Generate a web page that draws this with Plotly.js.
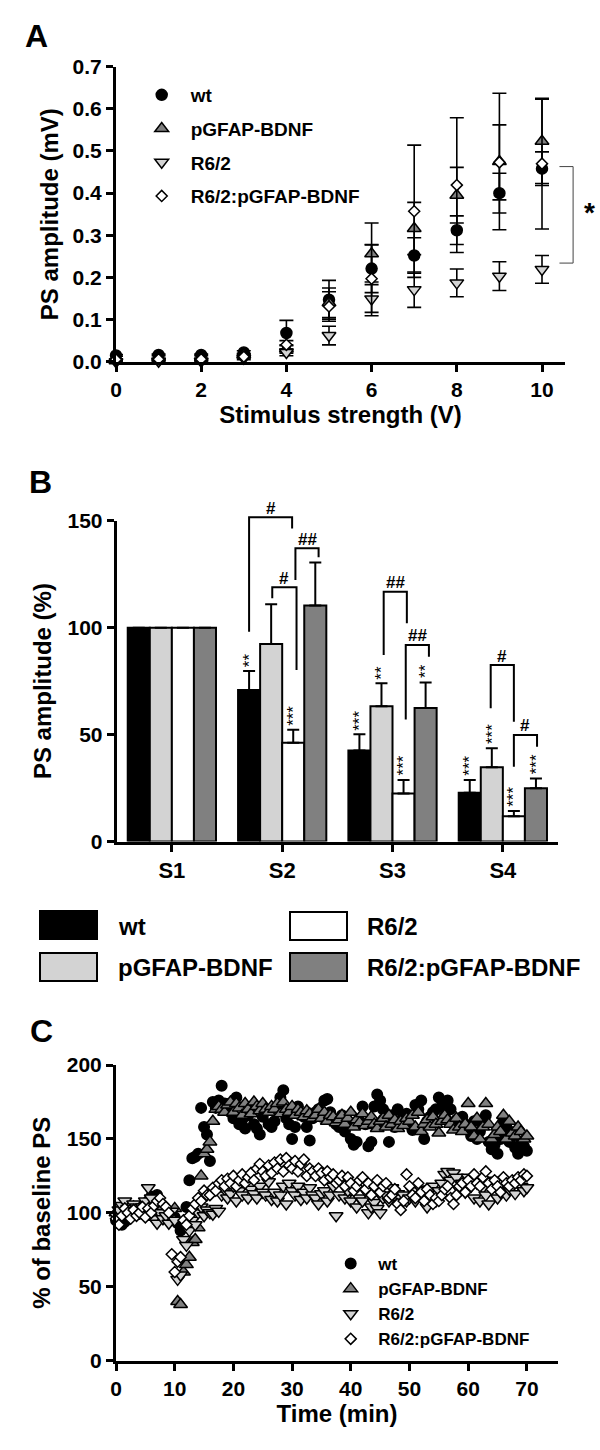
<!DOCTYPE html>
<html>
<head>
<meta charset="utf-8">
<script src="https://cdn.plot.ly/plotly-3.0.1.min.js"></script>
<style>html,body{margin:0;padding:0;background:#fff}#chart{width:600px;height:1450px}</style>
</head>
<body>
<div id="chart"></div>
<script>
// ---------------- Panel A data ----------------
const groupNames = ['wt', 'pGFAP-BDNF', 'R6/2', 'R6/2:pGFAP-BDNF'];
const stimV = [0, 1, 2, 3, 4, 5, 6, 7, 8, 9, 10];
const aWt      = [0.015, 0.016, 0.016, 0.022, 0.068, 0.147, 0.221, 0.252, 0.312, 0.400, 0.458];
const aWtErr   = [0.002, 0.002, 0.002, 0.004, 0.030, 0.046, 0.057, 0.042, 0.034, 0.047, 0.040];
const aPg      = [0.002, 0.003, 0.003, 0.016, 0.030, 0.140, 0.256, 0.316, 0.395, 0.475, 0.523];
const aPgErr   = [0.002, 0.002, 0.002, 0.004, 0.010, 0.035, 0.073, 0.062, 0.066, 0.162, 0.100];
const aR6      = [0.000, 0.001, 0.001, 0.008, 0.022, 0.062, 0.149, 0.171, 0.187, 0.203, 0.219];
const aR6Err   = [0.002, 0.002, 0.002, 0.003, 0.008, 0.022, 0.040, 0.042, 0.033, 0.034, 0.033];
const aR6Pg    = [0.005, 0.006, 0.006, 0.012, 0.040, 0.131, 0.197, 0.357, 0.419, 0.473, 0.470];
const aR6PgErr = [0.002, 0.002, 0.002, 0.003, 0.010, 0.035, 0.080, 0.157, 0.160, 0.089, 0.155];

// ---------------- Panel B data ----------------
const sessions = ['S1', 'S2', 'S3', 'S4'];
const bWt      = [100, 70.8, 42.5, 22.8];
const bWtErr   = [0, 8.9, 7.6, 6.0];
const bPg      = [100, 92.3, 63.2, 34.7];
const bPgErr   = [0, 18.6, 10.8, 8.9];
const bR6      = [100, 46.2, 22.5, 11.8];
const bR6Err   = [0, 6.1, 6.3, 2.5];
const bR6Pg    = [100, 110.4, 62.4, 24.9];
const bR6PgErr = [0, 20.1, 12.0, 4.6];
const starsWt    = ['', '**', '***', '***'];
const starsPg    = ['', '', '**', '***'];
const starsR6    = ['', '***', '***', '***'];
const starsR6Pg  = ['', '', '**', '***'];
const hashLabels = ['#', '##', '#', '##', '##', '#', '#'];

// ---------------- Panel C data ----------------
const timeMin = [0,0.5,1,1.5,2,2.5,3,3.5,4,4.5,5,5.5,6,6.5,7,7.5,8,8.5,9,9.5,10,10.5,11,11.5,12,12.5,13,13.5,14,14.5,15,15.5,16,16.5,17,17.5,18,18.5,19,19.5,20,20.5,21,21.5,22,22.5,23,23.5,24,24.5,25,25.5,26,26.5,27,27.5,28,28.5,29,29.5,30,30.5,31,31.5,32,32.5,33,33.5,34,34.5,35,35.5,36,36.5,37,37.5,38,38.5,39,39.5,40,40.5,41,41.5,42,42.5,43,43.5,44,44.5,45,45.5,46,46.5,47,47.5,48,48.5,49,49.5,50,50.5,51,51.5,52,52.5,53,53.5,54,54.5,55,55.5,56,56.5,57,57.5,58,58.5,59,59.5,60,60.5,61,61.5,62,62.5,63,63.5,64,64.5,65,65.5,66,66.5,67,67.5,68,68.5,69,69.5,70];
const cWt = [95,93,92,94,96,98,100,99,102,104,106,108,111,109,112,107,104,100,98,96,97,93,88,92,104,122,137,138,140,171,158,153,135,175,171,176,186,174,170,168,164,178,160,163,157,166,172,160,157,153,165,170,160,158,162,171,178,183,164,160,150,158,172,167,165,158,149,164,168,170,165,176,177,168,164,160,158,166,155,162,150,146,148,162,172,160,145,148,172,180,176,170,160,148,166,158,170,162,165,167,160,156,173,170,176,150,162,165,168,170,178,172,165,176,170,160,163,158,165,160,158,152,162,150,155,160,166,148,143,146,140,150,163,158,148,152,144,140,148,145,142];
const cPg = [100,98,103,101,99,102,104,100,98,101,102,99,97,100,103,101,98,100,99,97,103,40,38,60,65,70,80,82,90,125,140,143,148,162,170,172,170,168,173,175,168,174,171,166,174,170,167,175,172,169,174,170,168,172,170,174,167,175,170,168,172,166,170,168,165,169,167,164,166,170,164,168,162,166,165,161,163,166,160,164,168,158,163,161,167,159,162,165,160,157,162,164,158,166,160,163,157,162,159,164,162,166,158,168,155,160,163,158,165,160,154,162,166,163,160,156,164,158,155,160,174,158,152,164,150,158,174,160,150,153,158,155,166,150,162,154,152,158,155,150,152];
const cR6 = [98,102,105,108,103,100,106,104,100,104,108,117,110,96,93,100,96,98,93,101,95,55,58,82,78,88,95,92,100,104,98,102,100,99,103,101,112,116,110,113,118,108,115,112,120,110,116,113,110,118,114,112,121,109,114,108,112,118,106,120,115,112,118,109,114,110,117,112,110,106,113,115,108,112,118,98,112,124,110,115,108,118,104,110,108,115,100,104,107,103,100,110,112,108,117,112,113,110,112,108,110,115,108,112,116,110,104,116,118,108,115,120,126,128,122,127,124,116,120,114,124,118,110,120,108,117,112,106,118,122,110,114,120,112,116,118,113,120,118,115,117];
const cR6Pg = [96,92,98,103,100,96,102,98,100,104,97,103,100,105,108,110,106,104,100,72,60,67,70,95,92,98,103,106,110,108,115,112,112,117,115,120,122,118,123,120,125,118,122,126,120,124,127,122,130,133,128,125,132,127,134,130,136,128,137,132,130,135,128,133,136,125,130,128,125,130,127,122,128,124,126,120,122,125,118,124,120,115,118,122,124,116,120,112,118,122,114,118,120,110,112,116,106,102,108,126,118,112,110,120,114,108,116,112,106,110,108,112,116,118,110,106,112,118,120,114,122,118,126,120,118,124,128,120,116,122,118,114,124,120,118,122,120,124,122,126,125];

// ---------------- styling ----------------
const FAM = 'Liberation Sans, Arial, Helvetica, sans-serif';
const bold = s => ({family: FAM, size: s, color: '#000', weight: 'bold'});
const P = {x: v => v / 600, y: v => 1 - v / 1450};   // page pixel -> paper

const domA = {x: [116 / 600, 565 / 600], y: [1 - 361.7 / 1450, 1 - 66.7 / 1450]};
const domB = {x: [116.7 / 600, 558 / 600], y: [1 - 841.5 / 1450, 1 - 520.7 / 1450]};
const domC = {x: [116 / 600, 558 / 600], y: [1 - 1360.7 / 1450, 1 - 1065 / 1450]};
const rngA = {x: [0, 10.54], y: [0, 0.7]};
const rngB = {x: [-0.5, 3.5], y: [0, 150]};
const rngC = {x: [0, 75.3], y: [0, 200]};
const conv = (d, r) => ({
  x: v => d.x[0] + (v - r.x[0]) / (r.x[1] - r.x[0]) * (d.x[1] - d.x[0]),
  y: v => d.y[0] + (v - r.y[0]) / (r.y[1] - r.y[0]) * (d.y[1] - d.y[0])
});
const cA = conv(domA, rngA), cB = conv(domB, rngB);

const fills = ['#000000', '#808080', '#d3d3d3', '#ffffff'];
const symbols = ['circle', 'triangle-up', 'triangle-down', 'diamond'];
const sizesA = [11, 12, 12, 8.5];
const sizesC = [10.5, 12, 12, 8.5];
const barFills = ['#000000', '#d3d3d3', '#ffffff', '#808080'];

const traces = [];
// Panel A
[[aWt, aWtErr], [aPg, aPgErr], [aR6, aR6Err], [aR6Pg, aR6PgErr]].forEach((s, i) => {
  traces.push({
    type: 'scatter', mode: 'markers', x: stimV, y: s[0], name: groupNames[i],
    xaxis: 'x', yaxis: 'y', legend: 'legend', legendgroup: 'a' + i, cliponaxis: false,
    error_y: {type: 'data', array: s[1], color: '#000', thickness: 1.6, width: 7},
    marker: {symbol: symbols[i], size: sizesA[i], color: fills[i], line: {color: '#000', width: 1.5}}
  });
});
// Panel B
[[bWt, bWtErr], [bPg, bPgErr], [bR6, bR6Err], [bR6Pg, bR6PgErr]].forEach((s, i) => {
  traces.push({
    type: 'bar', x: sessions, y: s[0], name: groupNames[i === 1 ? 1 : i === 2 ? 2 : i],
    xaxis: 'x2', yaxis: 'y2', showlegend: false,
    marker: {color: barFills[i], line: {color: '#000', width: 2}},
    error_y: {type: 'data', symmetric: false, array: s[1], arrayminus: s[1].map(() => 0), color: '#000', thickness: 2, width: 6}
  });
});
// Panel C
[cWt, cPg, cR6, cR6Pg].forEach((s, i) => {
  traces.push({
    type: 'scatter', mode: 'markers', x: timeMin, y: s, name: groupNames[i],
    xaxis: 'x3', yaxis: 'y3', legend: 'legend2', cliponaxis: false,
    marker: {symbol: symbols[i], size: sizesC[i], color: fills[i], line: {color: '#000', width: 1.5}}
  });
});

// ---------------- annotations & shapes ----------------
const annotations = [];
const shapes = [];
const letter = (t, x, y) => annotations.push({text: t, xref: 'paper', yref: 'paper', x: P.x(x), y: P.y(y), xanchor: 'center', yanchor: 'middle', showarrow: false, font: bold(32)});
letter('A', 36, 36);
letter('B', 40, 482);
letter('C', 41, 1031);

// Panel A significance bracket
const aBr = {x0: 10.41, x1: 10.73, yTop: 0.463, yBot: 0.234};
shapes.push({type: 'path', xref: 'paper', yref: 'paper', line: {color: '#444', width: 1},
  path: `M${cA.x(aBr.x0)},${cA.y(aBr.yTop)} L${cA.x(aBr.x1)},${cA.y(aBr.yTop)} L${cA.x(aBr.x1)},${cA.y(aBr.yBot)} L${cA.x(aBr.x0)},${cA.y(aBr.yBot)}`});
annotations.push({text: '*', xref: 'paper', yref: 'paper', x: P.x(589), y: P.y(212), xanchor: 'center', yanchor: 'middle', showarrow: false, font: bold(28)});

// Panel B stars above error bars
const offsets = [-0.3, -0.1, 0.1, 0.3];
[[starsWt, bWt, bWtErr], [starsPg, bPg, bPgErr], [starsR6, bR6, bR6Err], [starsR6Pg, bR6Pg, bR6PgErr]].forEach((s, i) => {
  s[0].forEach((st, k) => {
    if (!st) return;
    annotations.push({text: st, xref: 'x2', yref: 'y2', x: k + offsets[i], y: s[1][k] + s[2][k],
      xanchor: 'center', yanchor: 'bottom', yshift: 2, textangle: -90, showarrow: false, font: {family: FAM, size: 17, color: '#000'}});
  });
});
// Panel B comparison brackets (category position, value)
const brX0   = [0.70, 1.12, 0.91, 1.92, 2.12, 2.89, 3.10];
const brX1   = [1.09, 1.33, 1.13, 2.13, 2.33, 3.10, 3.31];
const brTop  = [151.6, 137.1, 118.9, 116.8, 91.9, 82.5, 49.8];
const brLeft = [98.1, 122.3, 113.7, 87.2, 57.1, 62.3, 35.0];
const brRight= [146.4, 132.9, 80.2, 102.0, 86.4, 56.0, 44.3];
hashLabels.forEach((lab, i) => {
  shapes.push({type: 'path', xref: 'paper', yref: 'paper', line: {color: '#000', width: 2},
    path: `M${cB.x(brX0[i])},${cB.y(brLeft[i])} L${cB.x(brX0[i])},${cB.y(brTop[i])} L${cB.x(brX1[i])},${cB.y(brTop[i])} L${cB.x(brX1[i])},${cB.y(brRight[i])}`});
  annotations.push({text: lab, xref: 'paper', yref: 'paper', x: cB.x((brX0[i] + brX1[i]) / 2), y: cB.y(brTop[i]),
    xanchor: 'center', yanchor: 'middle', yshift: 9, showarrow: false, font: bold(17)});
});
// Panel B legend (boxes + labels)
const legB = [
  {name: groupNames[0], fill: barFills[0], bx: 40, by: 911, tx: 116, ty: 926},
  {name: groupNames[2], fill: barFills[2], bx: 290, by: 912, tx: 365, ty: 926},
  {name: groupNames[1], fill: barFills[1], bx: 40, by: 953, tx: 116, ty: 968},
  {name: groupNames[3], fill: barFills[3], bx: 290, by: 953, tx: 365, ty: 968}
];
legB.forEach(e => {
  shapes.push({type: 'rect', xref: 'paper', yref: 'paper', x0: P.x(e.bx), x1: P.x(e.bx + 57), y0: P.y(e.by + 28), y1: P.y(e.by),
    fillcolor: e.fill, line: {color: '#000', width: 2}});
  annotations.push({text: e.name, xref: 'paper', yref: 'paper', x: P.x(e.tx), y: P.y(e.ty), xanchor: 'left', yanchor: 'middle', showarrow: false, font: bold(24)});
});

const base = {showline: true, linecolor: '#000', linewidth: 3, ticks: 'outside', ticklen: 7, tickwidth: 3, tickcolor: '#000',
  showgrid: false, zeroline: false, tickfont: bold(21), fixedrange: true};
const ax = extra => Object.assign({}, base, extra);

const layout = {
  width: 600, height: 1450, autosize: false,
  margin: {l: 0, r: 0, t: 0, b: 0, pad: 0},
  paper_bgcolor: '#fff', plot_bgcolor: 'rgba(0,0,0,0)',
  font: {family: FAM, color: '#000'},
  barmode: 'group', bargap: 0.2, bargroupgap: 0,
  xaxis: ax({domain: domA.x, anchor: 'y', range: rngA.x, tickvals: [0, 2, 4, 6, 8, 10],
    title: {text: 'Stimulus strength (V)', font: bold(24), standoff: 6}}),
  yaxis: ax({domain: domA.y, anchor: 'x', range: rngA.y, tickvals: [0, 0.1, 0.2, 0.3, 0.4, 0.5, 0.6, 0.7], tickformat: '.1f',
    title: {text: 'PS amplitude (mV)', font: bold(24), standoff: 8}}),
  xaxis2: ax({domain: domB.x, anchor: 'y2', type: 'category', range: rngB.x, tickfont: bold(22)}),
  yaxis2: ax({domain: domB.y, anchor: 'x2', range: rngB.y, tickvals: [0, 50, 100, 150],
    title: {text: 'PS amplitude (%)', font: bold(24), standoff: 10}}),
  xaxis3: ax({domain: domC.x, anchor: 'y3', range: rngC.x, tickvals: [0, 10, 20, 30, 40, 50, 60, 70],
    title: {text: 'Time (min)', font: bold(24), standoff: 6}}),
  yaxis3: ax({domain: domC.y, anchor: 'x3', range: rngC.y, tickvals: [0, 50, 100, 150, 200],
    title: {text: '% of baseline PS', font: bold(24), standoff: 10}}),
  legend: {x: P.x(132.7), y: P.y(76), xanchor: 'left', yanchor: 'top', bgcolor: 'rgba(0,0,0,0)', borderwidth: 0,
    font: bold(19), itemwidth: 48, tracegroupgap: 6, traceorder: 'grouped'},
  legend2: {x: P.x(323.2), y: P.y(1246), xanchor: 'left', yanchor: 'top', bgcolor: 'rgba(0,0,0,0)', borderwidth: 0,
    font: bold(17), itemwidth: 45, traceorder: 'normal'},
  annotations: annotations,
  shapes: shapes
};

Plotly.newPlot('chart', traces, layout, {displayModeBar: false, staticPlot: true});
</script>
</body>
</html>
